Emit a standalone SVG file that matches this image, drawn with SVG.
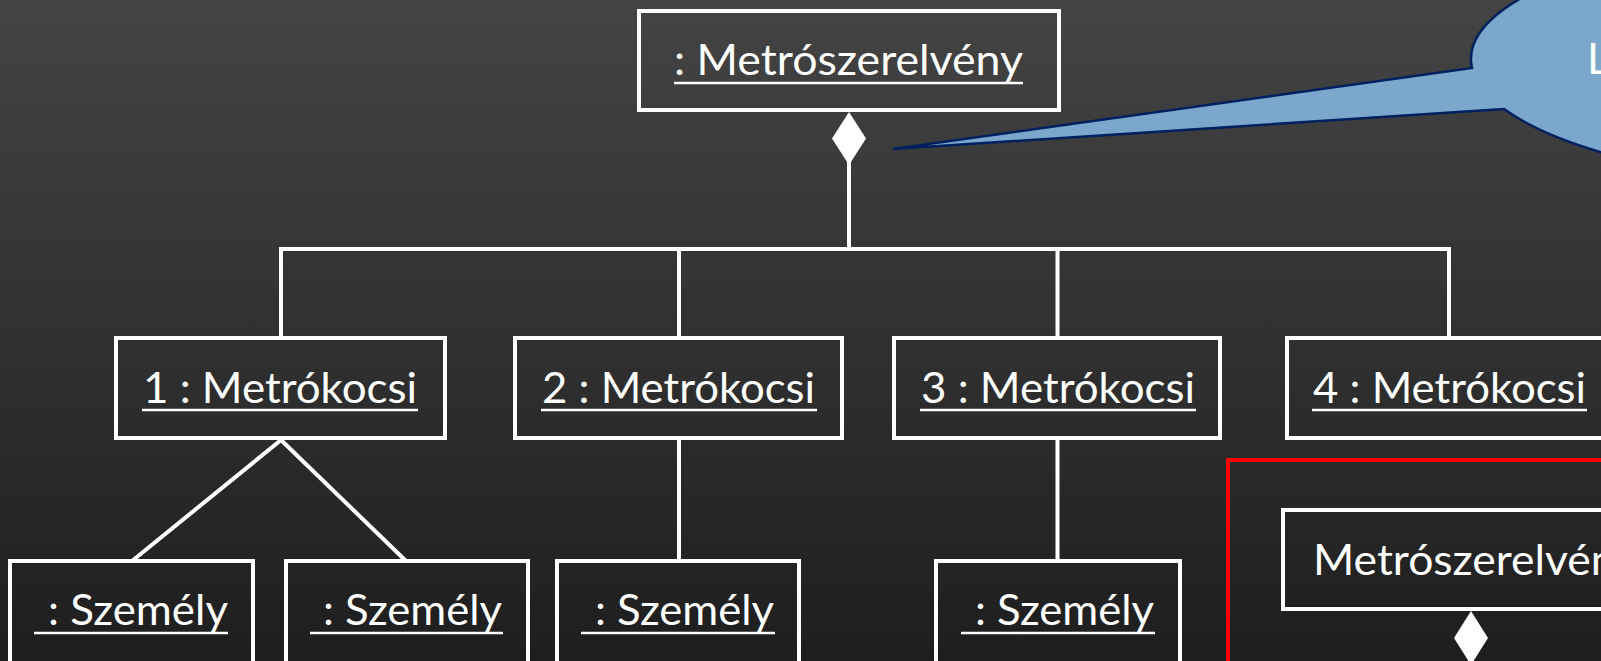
<svg xmlns="http://www.w3.org/2000/svg" width="1601" height="661" viewBox="0 0 1601 661">
  <defs>
    <linearGradient id="bg" x1="0" y1="0" x2="0" y2="1">
      <stop offset="0" stop-color="#444444"/>
      <stop offset="1" stop-color="#1e1e1e"/>
    </linearGradient>
    <style>
      .box { fill: none; stroke: #ffffff; stroke-width: 4; }
      .frame { fill: none; stroke: #ff0000; stroke-width: 4; }
      .wire { fill: none; stroke: #ffffff; stroke-width: 4; }
      .diamond { fill: #ffffff; stroke: none; }
      .lbl { fill: #ffffff; font-family: Lato, "Open Sans", "Liberation Sans", sans-serif; font-size: 43px; }
      .ul { stroke: #ffffff; stroke-width: 2.5; }
      .callout { fill: #7aa7cb; stroke: #002060; stroke-width: 2.5; stroke-linejoin: miter; }
    </style>
  </defs>

  <rect x="0" y="0" width="1601" height="661" fill="url(#bg)"/>

  <!-- composition links: train -> cars -> persons -->
  <g id="connectors">
    <path class="wire" d="M849 160 V249"/>
    <path class="wire" d="M279 249 H1451"/>
    <path class="wire" d="M281 249 V338 M679 249 V338 M1057.5 249 V338 M1449 249 V338"/>
    <path class="wire" d="M281 440 L132 561 M281 440 L406 561"/>
    <path class="wire" d="M679 440 V561 M1057.5 440 V561"/>
    <path class="diamond" d="M849 112 L866 138.5 L849 165 L832 138.5 Z"/>
  </g>

  <g id="train">
    <rect class="box" x="639" y="11" width="420" height="99"/>
    <text class="lbl" x="674" y="75" textLength="349" lengthAdjust="spacingAndGlyphs">: Metrószerelvény</text>
    <line class="ul" x1="674" y1="83" x2="1023" y2="83"/>
  </g>

  <g id="car1">
    <rect class="box" x="116" y="338" width="329" height="100"/>
    <text class="lbl" x="143" y="403" textLength="274" lengthAdjust="spacingAndGlyphs">1 : Metrókocsi</text>
    <line class="ul" x1="142" y1="410" x2="418" y2="410"/>
  </g>

  <g id="car2">
    <rect class="box" x="515" y="338" width="327" height="100"/>
    <text class="lbl" x="542" y="403" textLength="273" lengthAdjust="spacingAndGlyphs">2 : Metrókocsi</text>
    <line class="ul" x1="541" y1="410" x2="817" y2="410"/>
  </g>

  <g id="car3">
    <rect class="box" x="894" y="338" width="326" height="100"/>
    <text class="lbl" x="921" y="403" textLength="274" lengthAdjust="spacingAndGlyphs">3 : Metrókocsi</text>
    <line class="ul" x1="920" y1="410" x2="1196" y2="410"/>
  </g>

  <g id="car4">
    <rect class="box" x="1287" y="338" width="324" height="100"/>
    <text class="lbl" x="1313" y="403" textLength="273" lengthAdjust="spacingAndGlyphs">4 : Metrókocsi</text>
    <line class="ul" x1="1312" y1="410" x2="1587" y2="410"/>
  </g>

  <g id="person1">
    <rect class="box" x="10" y="561" width="243" height="140"/>
    <text class="lbl" x="48" y="625" textLength="180" lengthAdjust="spacingAndGlyphs">: Személy</text>
    <line class="ul" x1="34" y1="633" x2="228" y2="633"/>
  </g>

  <g id="person2">
    <rect class="box" x="286" y="561" width="242" height="140"/>
    <text class="lbl" x="323" y="625" textLength="179" lengthAdjust="spacingAndGlyphs">: Személy</text>
    <line class="ul" x1="310" y1="633" x2="503" y2="633"/>
  </g>

  <g id="person3">
    <rect class="box" x="557" y="561" width="242" height="140"/>
    <text class="lbl" x="595" y="625" textLength="179" lengthAdjust="spacingAndGlyphs">: Személy</text>
    <line class="ul" x1="581" y1="633" x2="775" y2="633"/>
  </g>

  <g id="person4">
    <rect class="box" x="936" y="561" width="244" height="140"/>
    <text class="lbl" x="975" y="625" textLength="179" lengthAdjust="spacingAndGlyphs">: Személy</text>
    <line class="ul" x1="961" y1="633" x2="1155" y2="633"/>
  </g>

  <!-- class-level view in a red frame -->
  <g id="class-view">
    <rect class="frame" x="1228" y="460" width="480" height="320"/>
    <g id="train-class">
      <rect class="box" x="1283" y="510" width="376" height="99"/>
      <text class="lbl" x="1313" y="575" textLength="325" lengthAdjust="spacingAndGlyphs">Metrószerelvény</text>
    </g>
    <path class="diamond" d="M1471 611 L1488 638 L1471 665 L1454 638 Z"/>
  </g>

  <g id="note">
    <path class="callout" d="M893 149 L1472 68 A430 130 0 1 1 1504 109 Z"/>
    <text class="lbl" x="1587" y="74">L</text>
  </g>
</svg>
